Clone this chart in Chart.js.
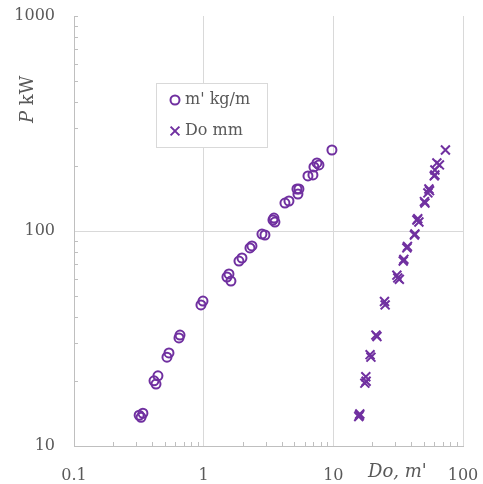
<!DOCTYPE html>
<html><head><meta charset="utf-8">
<script src="https://cdn.jsdelivr.net/npm/chart.js@4.4.0/dist/chart.umd.min.js"></script>
<style>html,body{margin:0;padding:0;background:#fff;overflow:hidden}</style>
</head><body>
<canvas id="c" width="483" height="484" style="display:block;width:483px;height:484px"></canvas>
<script>
const seriesNames = ["m' kg/m", "Do mm"];
const massX = [0.318, 0.329, 0.340, 0.444, 0.414, 0.429, 0.540, 0.521, 0.657, 0.645, 0.988, 0.953, 1.567, 1.512, 1.623, 1.974, 1.872, 2.275, 2.357, 2.815, 2.969, 3.422, 3.545, 3.483, 4.235, 4.547, 5.241, 5.429, 5.334, 6.373, 6.961, 7.086, 7.474, 7.745, 9.754];
const massY = [13.9, 13.6, 14.2, 21.2, 20.1, 19.4, 27.1, 25.9, 32.8, 31.8, 47.2, 45.3, 63.1, 61.1, 58.5, 74.9, 72.5, 83.4, 85.2, 96.8, 95.8, 112.5, 110.1, 114.9, 134.9, 137.9, 156.8, 156.8, 148.6, 180.3, 182.3, 198.6, 207.3, 202.9, 238.1];
const diamX = [16.0, 15.7, 15.9, 17.8, 17.5, 17.9, 19.2, 19.5, 21.3, 21.7, 24.8, 25.1, 30.9, 32.3, 31.4, 35.0, 34.6, 36.9, 37.3, 42.6, 42.2, 44.1, 45.7, 44.8, 50.9, 50.4, 54.6, 53.6, 55.2, 60.7, 60.0, 62.9, 65.8, 60.7, 73.2];
const diamY = [14.1, 13.7, 13.9, 21.0, 19.6, 20.0, 26.6, 25.9, 32.8, 32.3, 47.0, 45.3, 62.3, 59.6, 60.5, 73.8, 72.5, 83.4, 84.8, 96.8, 95.8, 112.5, 110.1, 114.0, 134.9, 137.0, 156.8, 150.3, 154.0, 182.3, 180.3, 207.3, 202.9, 192.2, 238.1];
const xTickValues = [0.1, 1, 10, 100];
const xTickLabels = ['0.1', '1', '10', '100'];
const yTickValues = [10, 100, 1000];
const yTickLabels = ['10', '100', '1000'];
const xTitle = "Do, m'";
const yTitleItalic = 'P';
const yTitleRest = 'kW';

const PURPLE = '#7030a0';
const TEXT = '#595959';
const FONT = 'DejaVu Serif';

function zeroPad(s) { s.paddingTop = 0; s.paddingBottom = 0; s.paddingLeft = 0; s.paddingRight = 0; }

const extras = {
  id: 'extras',
  beforeDatasetsDraw(chart) {
    const ctx = chart.ctx, xs = chart.scales.x, ys = chart.scales.y;
    const a = chart.chartArea;
    ctx.save();
    ctx.strokeStyle = '#bfbfbf';
    ctx.lineWidth = 1;
    ctx.beginPath();
    for (let d = 0; d < xTickValues.length - 1; d++) {
      for (let k = 2; k <= 9; k++) {
        const px = Math.round(xs.getPixelForValue(xTickValues[d] * k)) + 0.5;
        ctx.moveTo(px, a.bottom); ctx.lineTo(px, a.bottom - 4);
      }
    }
    for (let d = 0; d < yTickValues.length - 1; d++) {
      for (let k = 2; k <= 9; k++) {
        const py = Math.round(ys.getPixelForValue(yTickValues[d] * k)) + 0.5;
        ctx.moveTo(a.left, py); ctx.lineTo(a.left + 4, py);
      }
    }
    const pt = Math.round(ys.getPixelForValue(yTickValues[yTickValues.length - 1])) + 0.5;
    ctx.moveTo(a.left, pt); ctx.lineTo(a.left + 4, pt);
    ctx.stroke();
    ctx.restore();
  },
  afterDraw(chart) {
    const ctx = chart.ctx;
    ctx.save();
    // legend box
    ctx.fillStyle = '#ffffff';
    ctx.fillRect(156, 83, 111, 64);
    ctx.strokeStyle = '#d9d9d9';
    ctx.lineWidth = 1;
    ctx.strokeRect(156.5, 83.5, 111, 64);
    ctx.strokeStyle = PURPLE;
    ctx.lineWidth = 2;
    ctx.beginPath();
    ctx.arc(175, 100, 4.5, 0, Math.PI * 2);
    ctx.stroke();
    const r = 4.4;
    ctx.beginPath();
    ctx.moveTo(175 - r, 131 - r); ctx.lineTo(175 + r, 131 + r);
    ctx.moveTo(175 - r, 131 + r); ctx.lineTo(175 + r, 131 - r);
    ctx.stroke();
    ctx.fillStyle = TEXT;
    ctx.font = '16px "' + FONT + '"';
    ctx.textBaseline = 'middle';
    ctx.textAlign = 'left';
    ctx.fillText(seriesNames[0], 185, 100);
    ctx.fillText(seriesNames[1], 185, 131);
    // x title
    ctx.font = 'italic 18px "' + FONT + '"';
    ctx.fillText(xTitle, 368, 472);
    // y title
    ctx.translate(28, 123);
    ctx.rotate(-Math.PI / 2);
    ctx.font = 'italic 18px "' + FONT + '"';
    ctx.fillText(yTitleItalic, 0, 0);
    const w = ctx.measureText(yTitleItalic + ' ').width;
    ctx.font = '18px "' + FONT + '"';
    ctx.fillText(yTitleRest, w, 0);
    ctx.restore();
  }
};

new Chart(document.getElementById('c'), {
  type: 'scatter',
  data: {
    datasets: [
      { label: seriesNames[0], data: massX.map((x, i) => ({ x: x, y: massY[i] })),
        pointStyle: 'circle', pointRadius: 4.5, pointBorderWidth: 2,
        borderColor: PURPLE, backgroundColor: 'rgba(0,0,0,0)', showLine: false },
      { label: seriesNames[1], data: diamX.map((x, i) => ({ x: x, y: diamY[i] })),
        pointStyle: 'crossRot', pointRadius: 6.3, pointBorderWidth: 2,
        borderColor: PURPLE, backgroundColor: PURPLE, showLine: false }
    ]
  },
  options: {
    responsive: false, animation: false, devicePixelRatio: 1,
    layout: { padding: { left: 0, top: 16, right: 20, bottom: 0 } },
    plugins: { legend: { display: false }, tooltip: { enabled: false } },
    scales: {
      x: {
        type: 'logarithmic', position: 'bottom', min: 0.1, max: 100,
        afterBuildTicks: s => { s.ticks = xTickValues.map(v => ({ value: v })); },
        afterFit: s => { s.height = 38; zeroPad(s); },
        ticks: { autoSkip: false, maxRotation: 0, padding: 20, color: TEXT,
          font: { family: FONT, size: 16 }, callback: (v, i) => xTickLabels[i] },
        grid: { color: '#d9d9d9', drawTicks: false, lineWidth: 1 },
        border: { color: '#bfbfbf' }
      },
      y: {
        type: 'logarithmic', position: 'left', min: 10, max: 1000,
        afterBuildTicks: s => { s.ticks = yTickValues.map(v => ({ value: v })); },
        afterFit: s => { s.width = 74; zeroPad(s); },
        ticks: { autoSkip: false, padding: 19, color: TEXT,
          font: { family: FONT, size: 16 }, callback: (v, i) => yTickLabels[i] },
        grid: { color: c => (c.tick && c.tick.value === 100) ? '#d9d9d9' : 'rgba(0,0,0,0)', drawTicks: false, lineWidth: 1 },
        border: { color: '#bfbfbf' }
      }
    }
  },
  plugins: [extras]
});
</script>
</body></html>
